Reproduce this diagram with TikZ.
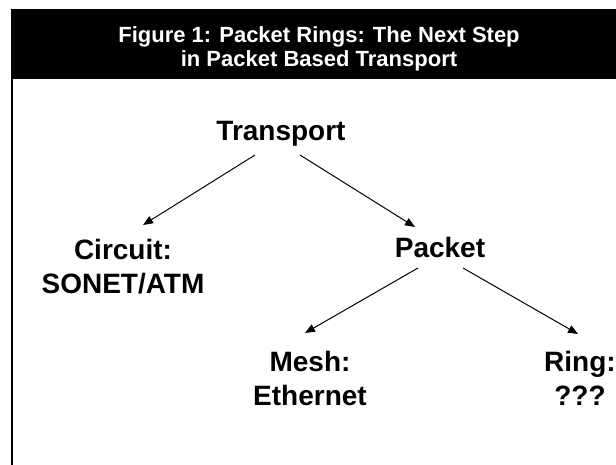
\documentclass[tikz,border=0pt]{standalone}
\usepackage{fontspec}
\setmainfont{Liberation Sans}
\usepackage{tikz}
\usetikzlibrary{arrows.meta,shapes}
\tikzstyle{label}=[font=\bfseries\fontsize{28}{34}\selectfont,align=center,inner sep=0pt]
\tikzstyle{title}=[font=\bfseries\fontsize{22}{24}\selectfont,align=center,inner sep=0pt,text=white]
\tikzstyle{edge} = [draw,line width=1pt,-{Triangle[length=10pt,width=8pt]}]

\begin{document}
\begin{tikzpicture}[x=1pt,y=-1pt]
    \useasboundingbox (0,0) rectangle (616,465);
    % Title bar and left border
    \fill[black] (11,9) rectangle (616,79);
    \draw[line width=2pt] (12,79) -- (12,465);
    \node[title] (head) at (319,48.5) {Figure 1: Packet Rings: The Next Step\\in Packet Based Transport};
    % First we draw the labels
    \foreach \pos/\name/\txt in {{(281,134)/tr/Transport}, {(123,267)/circ/{Circuit:\\SONET/ATM}},
        {(440,247.5)/pkt/Packet}, {(310,378)/mesh/{Mesh:\\Ethernet}}, {(580,378)/ring/{Ring:\\???}}}
        \node[label] (\name) at \pos {\txt};
    % Connect labels with arrows
    \path[edge] ([shift={(-26,21)}]tr.center) -- ([shift={(20,-42)}]circ.center);
    \path[edge] ([shift={(19,21)}]tr.center) -- ([shift={(-25,-20.5)}]pkt.center);
    \path[edge] ([shift={(-22,20.5)}]pkt.center) -- ([shift={(-5,-45)}]mesh.center);
    \path[edge] ([shift={(23,20.5)}]pkt.center) -- ([shift={(-2,-44)}]ring.center);
\end{tikzpicture}
\end{document}
